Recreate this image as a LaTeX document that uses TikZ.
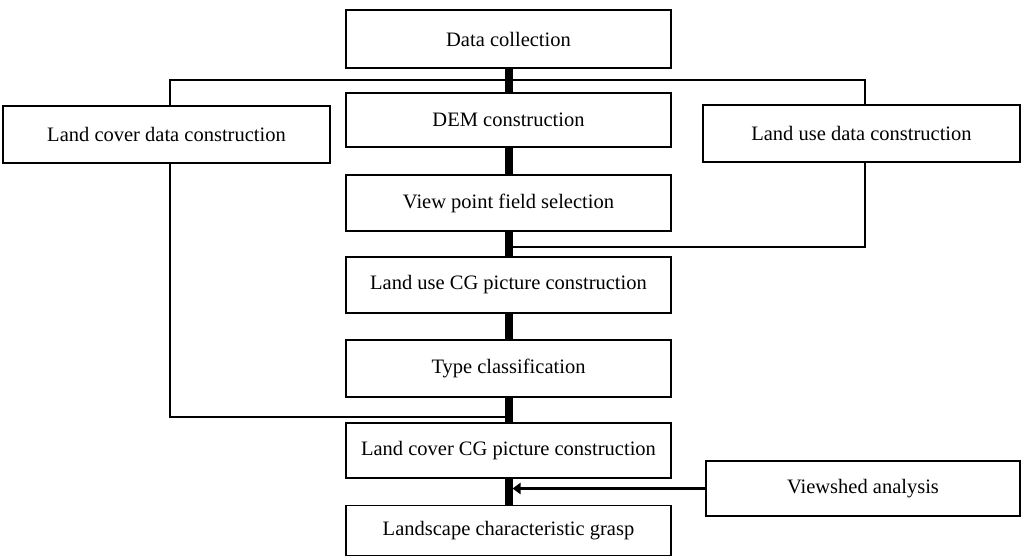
\documentclass[tikz,border=0pt]{standalone}
\usepackage{fontspec}
\setmainfont{Liberation Serif}
\usetikzlibrary{arrows.meta}
\begin{document}
\begin{tikzpicture}[x=1pt,y=-1pt,
  box/.style={draw,line width=1.6pt,inner sep=0pt,align=center,font=\fontsize{20.5}{24}\selectfont},
  mid/.style={box,minimum width=325pt},
  bar/.style={line width=8pt},
  link/.style={line width=1.6pt}]
\useasboundingbox (0,0) rectangle (1024,557);
\node[mid,minimum height=58pt] (dc) at (508.5,39) {Data collection};
\node[mid,minimum height=54pt] (dem) at (508.5,120) {DEM construction};
\node[mid,minimum height=56pt] (vp) at (508.5,203) {View point field selection};
\node[mid,minimum height=56pt] (lucg) at (508.5,285) {Land use CG picture construction};
\node[mid,minimum height=57pt] (tc) at (508.5,368.5) {Type classification};
\node[mid,minimum height=55pt] (lccg) at (508.5,450.5) {Land cover CG picture construction};
\node[mid,minimum height=50pt] (lcg) at (508.5,530.5) {Landscape characteristic grasp};
\node[box,minimum width=327pt,minimum height=57pt] (lcd) at (166.5,134.5) {Land cover data construction};
\node[box,minimum width=317pt,minimum height=57pt] (lud) at (861.5,133.5) {Land use data construction};
\node[box,minimum width=314pt,minimum height=55pt] (va) at (863,488.5) {Viewshed analysis};
\coordinate (jt) at (508.5,80);
\coordinate (jl) at (508.5,417);
\coordinate (jr) at (508.5,247);
\coordinate (ja) at (512.5,488.5);
\draw[bar] (dc.south) -- (dem.north);
\draw[bar] (dem.south) -- (vp.north);
\draw[bar] (vp.south) -- (lucg.north);
\draw[bar] (lucg.south) -- (tc.north);
\draw[bar] (tc.south) -- (lccg.north);
\draw[bar] (lccg.south) -- (lcg.north);
\draw[link] (jt) -| ([xshift=3.5pt]lcd.north);
\draw[link] ([xshift=3.5pt]lcd.south) |- (jl);
\draw[link] (jt) -| ([xshift=3.5pt]lud.north);
\draw[link] ([xshift=3.5pt]lud.south) |- (jr);
\draw[line width=2.5pt,-{Triangle[length=8pt,width=11pt]}] (va.west) -- (ja);
\end{tikzpicture}
\end{document}
